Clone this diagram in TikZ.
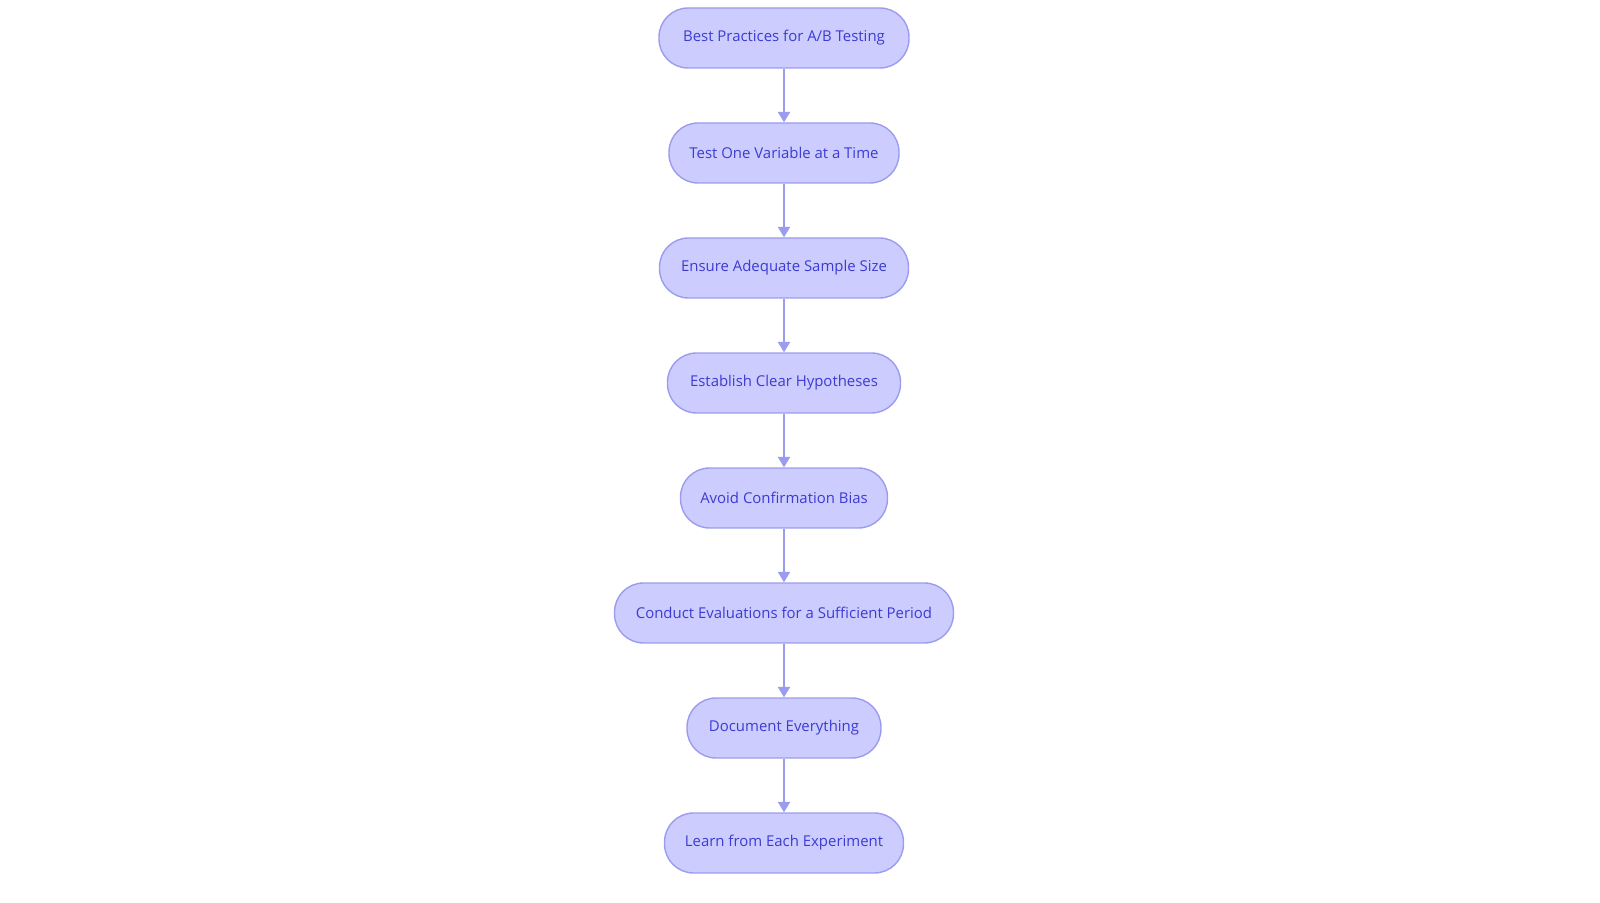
\documentclass[tikz,border=0pt]{standalone}
\usepackage{fontspec}
\setmainfont{Open Sans}
\usepackage{tikz}
\usetikzlibrary{arrows.meta}
\definecolor{stepfill}{HTML}{CCCCFF}
\definecolor{stepline}{HTML}{9C9CEE}
\definecolor{steptext}{HTML}{3C3CD2}

\begin{document}
\begin{tikzpicture}[x=0.02cm,y=0.02cm,
    practice/.style={draw=stepline, fill=stepfill, rounded corners=16.5pt, line width=0.8pt,
                 minimum height=1.2cm, text=steptext, font=\fontsize{8.5}{10}\selectfont},
    link/.style={draw=stepline, line width=1pt, -{Triangle[length=6pt,width=7pt]}}]

        \useasboundingbox (0,0) rectangle (1600,903);

        % Steps, top to bottom
        \node[practice, minimum width=5cm]    (S0) at (784,865) {Best Practices for A/B Testing};
        \node[practice, minimum width=4.6cm]  (S1) at (784,750) {Test One Variable at a Time};
        \node[practice, minimum width=4.98cm] (S2) at (784,635) {Ensure Adequate Sample Size};
        \node[practice, minimum width=4.66cm] (S3) at (784,520) {Establish Clear Hypotheses};
        \node[practice, minimum width=4.14cm] (S4) at (784,405) {Avoid Confirmation Bias};
        \node[practice, minimum width=6.78cm] (S5) at (784,290) {Conduct Evaluations for a Sufficient Period};
        \node[practice, minimum width=3.88cm] (S6) at (784,175) {Document Everything};
        \node[practice, minimum width=4.78cm] (S7) at (784,60)  {Learn from Each Experiment};

        % Arrows
        \draw[link] (S0) -- (S1);
        \draw[link] (S1) -- (S2);
        \draw[link] (S2) -- (S3);
        \draw[link] (S3) -- (S4);
        \draw[link] (S4) -- (S5);
        \draw[link] (S5) -- (S6);
        \draw[link] (S6) -- (S7);

    \end{tikzpicture}
\end{document}
